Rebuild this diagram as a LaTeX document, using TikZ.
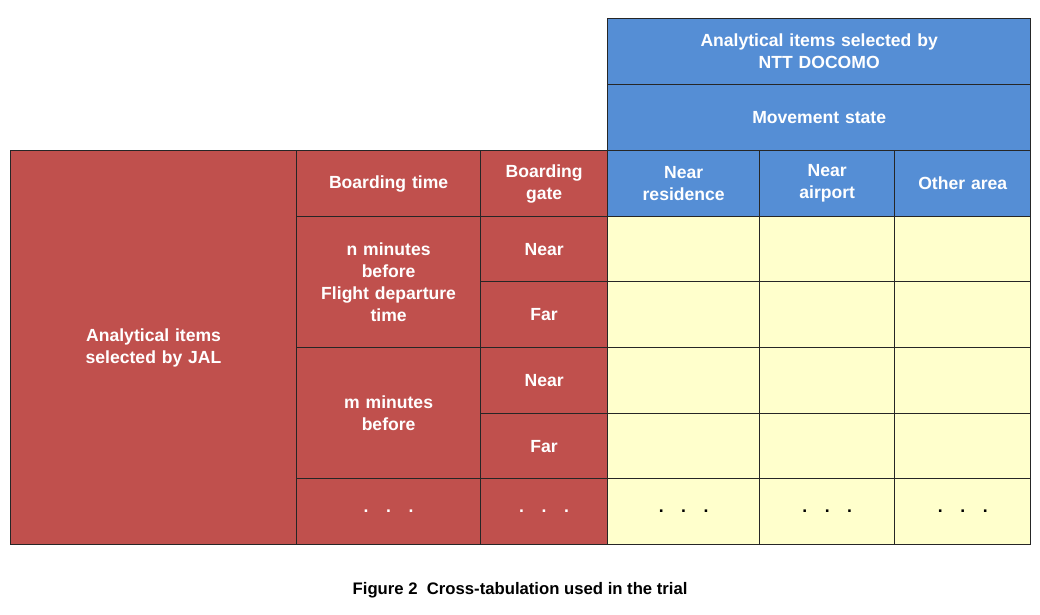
\documentclass[tikz,border=0pt]{standalone}
\usepackage{fontspec}
\setmainfont{Liberation Sans}
\usetikzlibrary{positioning}
\definecolor{jalred}{RGB}{192,80,77}
\definecolor{docoblue}{RGB}{85,142,213}
\definecolor{cellyellow}{RGB}{255,255,204}
\tikzset{
  cellbox/.style={draw=black!85, line width=0.6pt, anchor=north west, inner sep=1pt,
    align=center, text=white, font=\fontsize{10}{12.5}\selectfont\bfseries},
}
% name, x1, y1, x2, y2, fill, text
\newcommand{\tabcell}[7]{%
  \node[cellbox, fill=#6, minimum width={(#4-#2)*0.02cm}, minimum height={(#5-#3)*0.02cm},
    text width={(#4-#2)*0.02cm-6pt}] (#1) at (#2*0.02,-#3*0.02) {#7};}
\begin{document}
\begin{tikzpicture}
  \useasboundingbox (0,0) rectangle (20.8,-12.3);
  % NTT DOCOMO header
  \tabcell{docomo}{607}{18}{1030}{84}{docoblue}{Analytical items selected by\\NTT DOCOMO}
  \tabcell{movement}{607}{84}{1030}{150}{docoblue}{Movement state}
  \tabcell{residence}{607}{150}{759}{216}{docoblue}{Near\\residence}
  \tabcell{airport}{759}{150}{894}{216}{docoblue}{Near\\airport}
  \tabcell{otherarea}{894}{150}{1030}{216}{docoblue}{Other area}
  % JAL side
  \tabcell{jal}{10}{150}{296}{544}{jalred}{Analytical items\\selected by JAL}
  \tabcell{btime}{296}{150}{480}{216}{jalred}{Boarding time}
  \tabcell{bgate}{480}{150}{607}{216}{jalred}{Boarding\\gate}
  \tabcell{nbefore}{296}{216}{480}{347}{jalred}{n minutes\\before\\Flight departure\\time}
  \tabcell{mbefore}{296}{347}{480}{478}{jalred}{m minutes\\before}
  \tabcell{tdots}{296}{478}{480}{544}{jalred}{.\quad.\quad.}
  \tabcell{gnear1}{480}{216}{607}{281}{jalred}{Near}
  \tabcell{gfar1}{480}{281}{607}{347}{jalred}{Far}
  \tabcell{gnear2}{480}{347}{607}{413}{jalred}{Near}
  \tabcell{gfar2}{480}{413}{607}{478}{jalred}{Far}
  \tabcell{gdots}{480}{478}{607}{544}{jalred}{.\quad.\quad.}
  % yellow body
  \foreach \ya/\yb in {216/281,281/347,347/413,413/478}{
    \tabcell{c1\ya}{607}{\ya}{759}{\yb}{cellyellow}{}
    \tabcell{c2\ya}{759}{\ya}{894}{\yb}{cellyellow}{}
    \tabcell{c3\ya}{894}{\ya}{1030}{\yb}{cellyellow}{}
  }
  \tabcell{ydots1}{607}{478}{759}{544}{cellyellow}{\textcolor{black}{.\quad.\quad.}}
  \tabcell{ydots2}{759}{478}{894}{544}{cellyellow}{\textcolor{black}{.\quad.\quad.}}
  \tabcell{ydots3}{894}{478}{1030}{544}{cellyellow}{\textcolor{black}{.\quad.\quad.}}
  % caption
  \node[font=\fontsize{9.5}{12}\selectfont\bfseries] (caption) at (520*0.02,-590*0.02)
    {Figure 2\ \ Cross-tabulation used in the trial};
\end{tikzpicture}
\end{document}
